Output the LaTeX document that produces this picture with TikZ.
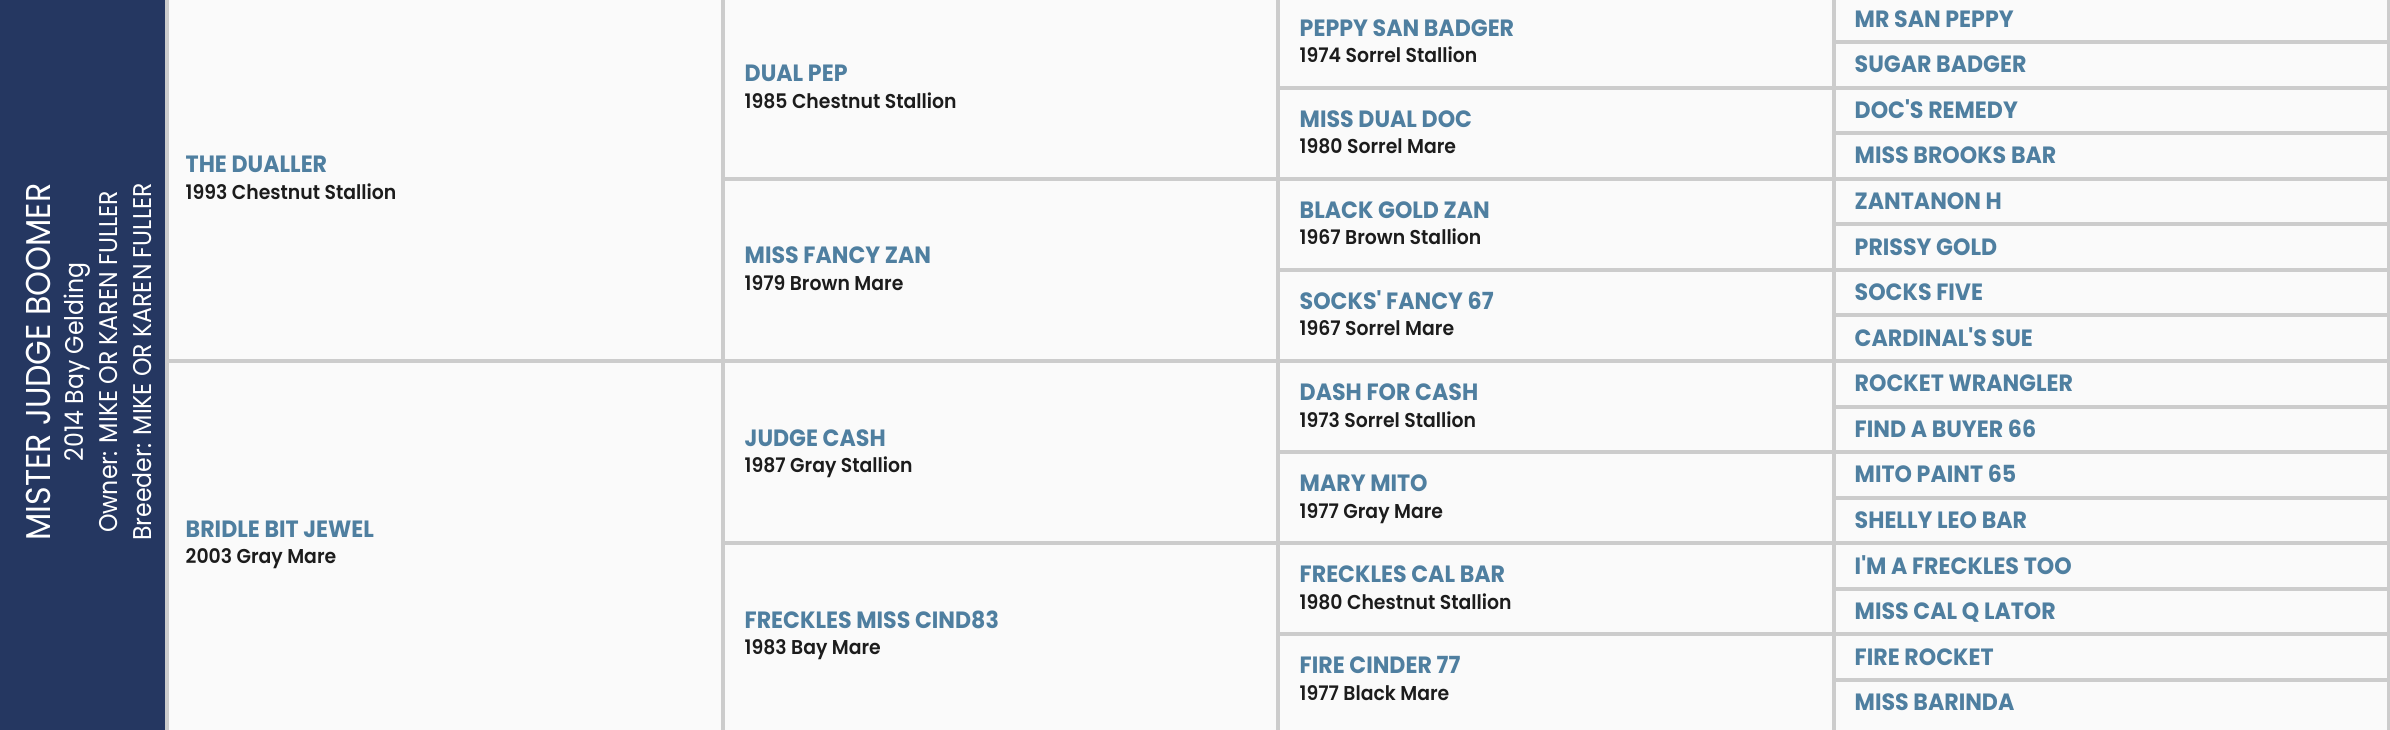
\documentclass[tikz,border=0pt]{standalone}
\usepackage{fontspec}
\newfontfamily\namefont{Poppins Bold}[Ligatures=TeXOff,FakeStretch=0.94]
\newfontfamily\bornfont{Poppins SemiBold}[Ligatures=TeXOff,FakeStretch=0.94]
\newfontfamily\titlefont{Poppins}[Ligatures=TeXOff,FakeStretch=0.92]
\definecolor{navy}{HTML}{253761}
\definecolor{horseblue}{HTML}{4F7FA0}
\definecolor{gridgray}{HTML}{CCCCCC}
\definecolor{cellbg}{HTML}{FAFAFA}
\definecolor{inkblack}{HTML}{1C1C1C}
\tikzset{
	horse/.style={anchor=base west,inner sep=0pt,text=horseblue,font=\namefont\fontsize{6.7}{8}\selectfont},
	born/.style={anchor=base west,inner sep=0pt,text=inkblack,font=\bornfont\fontsize{5.7}{7}\selectfont},
	grid line/.style={draw=gridgray,line width=0.4mm},
	banner/.style={rotate=90,anchor=base,inner sep=0pt,text=white,font=\titlefont\fontsize{7.3}{9}\selectfont}
}
\begin{document}
\begin{tikzpicture}[x=0.1mm,y=-0.1mm]
			\useasboundingbox (0,0) rectangle (2390,730);
			\fill[cellbg](0,0)rectangle(2390,730);
			\fill[navy](0,0)rectangle(165,730);
			% columns
			\draw[grid line](167,-6)--(167,736);
			\draw[grid line](722.5,-6)--(722.5,736);
			\draw[grid line](1278,-6)--(1278,736);
			\draw[grid line](1833.5,-6)--(1833.5,736);
			\draw[grid line](2389,-6)--(2389,736);
			% rows
			\draw[grid line](167,361)--(2389,361);
			\draw[grid line](722.5,178.75)--(2389,178.75);
			\draw[grid line](722.5,543.25)--(2389,543.25);
			\draw[grid line](1278,87.63)--(2389,87.63);
			\draw[grid line](1278,269.88)--(2389,269.88);
			\draw[grid line](1278,452.13)--(2389,452.13);
			\draw[grid line](1278,634.38)--(2389,634.38);
			\draw[grid line](1833.5,42.06)--(2389,42.06);
			\draw[grid line](1833.5,133.19)--(2389,133.19);
			\draw[grid line](1833.5,224.31)--(2389,224.31);
			\draw[grid line](1833.5,315.44)--(2389,315.44);
			\draw[grid line](1833.5,406.56)--(2389,406.56);
			\draw[grid line](1833.5,497.69)--(2389,497.69);
			\draw[grid line](1833.5,588.81)--(2389,588.81);
			\draw[grid line](1833.5,679.94)--(2389,679.94);
			% horse
			\node[banner,font=\titlefont\fontsize{9.8}{11}\selectfont](boomer)at(50.7,362){MISTER JUDGE BOOMER};
			\node[banner](foaled)at(83,362){2014 Bay Gelding};
			\node[banner](owner)at(117,362){Owner: MIKE OR KAREN FULLER};
			\node[banner](breeder)at(151,362){Breeder: MIKE OR KAREN FULLER};
			% sire and dam
			\node[horse](dualler)at(185,172.8){THE DUALLER};
			\node[born](dualler-b)at(185,199.3){1993 Chestnut Stallion};
			\node[horse](jewel)at(185,537.3){BRIDLE BIT JEWEL};
			\node[born](jewel-b)at(185,563.8){2003 Gray Mare};
			% grandparents
			\node[horse](dualpep)at(744,81.6){DUAL PEP};
			\node[born](dualpep-b)at(744,108.1){1985 Chestnut Stallion};
			\node[horse](fancyzan)at(744,263.9){MISS FANCY ZAN};
			\node[born](fancyzan-b)at(744,290.4){1979 Brown Mare};
			\node[horse](judgecash)at(744,446.1){JUDGE CASH};
			\node[born](judgecash-b)at(744,472.6){1987 Gray Stallion};
			\node[horse](cind)at(744,628.4){FRECKLES MISS CIND83};
			\node[born](cind-b)at(744,654.9){1983 Bay Mare};
			% great grandparents
			\node[horse](badger)at(1299,36.1){PEPPY SAN BADGER};
			\node[born](badger-b)at(1299,62.6){1974 Sorrel Stallion};
			\node[horse](dualdoc)at(1299,127.2){MISS DUAL DOC};
			\node[born](dualdoc-b)at(1299,153.7){1980 Sorrel Mare};
			\node[horse](goldzan)at(1299,218.3){BLACK GOLD ZAN};
			\node[born](goldzan-b)at(1299,244.8){1967 Brown Stallion};
			\node[horse](socksfancy)at(1299,309.4){SOCKS' FANCY 67};
			\node[born](socksfancy-b)at(1299,335.9){1967 Sorrel Mare};
			\node[horse](dashcash)at(1299,400.6){DASH FOR CASH};
			\node[born](dashcash-b)at(1299,427.1){1973 Sorrel Stallion};
			\node[horse](marymito)at(1299,491.7){MARY MITO};
			\node[born](marymito-b)at(1299,518.2){1977 Gray Mare};
			\node[horse](calbar)at(1299,582.8){FRECKLES CAL BAR};
			\node[born](calbar-b)at(1299,609.3){1980 Chestnut Stallion};
			\node[horse](cinder)at(1299,673.9){FIRE CINDER 77};
			\node[born](cinder-b)at(1299,700.4){1977 Black Mare};
			% fourth generation
			\node[horse](sanpeppy)at(1854,27.3){MR SAN PEPPY};
			\node[horse](sugar)at(1854,72.8){SUGAR BADGER};
			\node[horse](remedy)at(1854,118.4){DOC'S REMEDY};
			\node[horse](brooks)at(1854,164){MISS BROOKS BAR};
			\node[horse](zantanon)at(1854,209.5){ZANTANON H};
			\node[horse](prissy)at(1854,255.1){PRISSY GOLD};
			\node[horse](socksfive)at(1854,300.7){SOCKS FIVE};
			\node[horse](cardinal)at(1854,346.2){CARDINAL'S SUE};
			\node[horse](wrangler)at(1854,391.8){ROCKET WRANGLER};
			\node[horse](buyer)at(1854,437.3){FIND A BUYER 66};
			\node[horse](mitopaint)at(1854,482.9){MITO PAINT 65};
			\node[horse](shelly)at(1854,528.5){SHELLY LEO BAR};
			\node[horse](freckles)at(1854,574){I'M A FRECKLES TOO};
			\node[horse](calqlator)at(1854,619.6){MISS CAL Q LATOR};
			\node[horse](firerocket)at(1854,665.2){FIRE ROCKET};
			\node[horse](barinda)at(1854,710.7){MISS BARINDA};
		\end{tikzpicture}
\end{document}
